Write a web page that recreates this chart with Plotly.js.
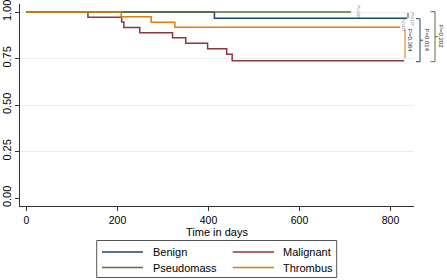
<!DOCTYPE html>
<html>
<head>
<meta charset="utf-8">
<script src="https://cdn.plot.ly/plotly-3.0.1.min.js"></script>
<style>html,body{margin:0;padding:0;background:#fff;}#chart{width:447px;height:280px;}</style>
</head>
<body>
<div id="chart"></div>
<script>
// Kaplan-Meier step data (time in days, survival after event)
const benignT = [0, 413, 836];
const benignS = [1.0, 0.966, 0.966];
const malignantT = [0, 135, 209, 214, 249, 321, 350, 398, 440, 452, 830];
const malignantS = [1.0, 0.972, 0.946, 0.917, 0.889, 0.861, 0.832, 0.803, 0.773, 0.738, 0.738];
const pseudoT = [0, 713];
const pseudoS = [1.0, 1.0];
const thrombusT = [0, 208, 274, 326, 821];
const thrombusS = [1.0, 0.975, 0.945, 0.918, 0.918];

const groups = ['Benign', 'Malignant', 'Pseudomass', 'Thrombus'];
const colors = ['#1a476f', '#90353b', '#55752f', '#e37e00'];
const xTicks = [0, 200, 400, 600, 800];
const yTicks = [0, 0.25, 0.5, 0.75, 1];
const yTickText = ['0.00', '0.25', '0.50', '0.75', '1.00'];
const pLabels = ['P=0.202', 'P=0.014', 'P=0.384'];
const pSmall = ['P=1.000', 'P=0.157', 'P=0.317'];

const W = 447, H = 280, L = 20, R = 33, T = 4, B = 74;
const pw = W - L - R, ph = H - T - B;
const px = p => (p - L) / pw;
const py = p => (H - B - p) / ph;
const FONT = 'Liberation Sans, Arial, sans-serif';

function step(x, y, name, color) {
  return {x: x, y: y, type: 'scatter', mode: 'lines', line: {shape: 'hv', color: color, width: 1.5},
          name: name, showlegend: false, hoverinfo: 'skip'};
}
const data = [
  step(benignT, benignS, groups[0], colors[0]),
  step(malignantT, malignantS, groups[1], colors[1]),
  step(pseudoT, pseudoS, groups[2], colors[2]),
  step(thrombusT, thrombusS, groups[3], colors[3]),
  {x: [], y: [], yaxis: 'y2', type: 'scatter', showlegend: false}
];

function seg(x0, y0, x1, y1, color, w) {
  return {type: 'line', xref: 'paper', yref: 'paper', x0: px(x0), y0: py(y0), x1: px(x1), y1: py(y1),
          line: {color: color, width: w}};
}
function bracket(x, yTop, yBot, arm, color) {
  return [seg(x - arm, yTop, x, yTop, color, 1), seg(x, yTop, x, yBot, color, 1),
          seg(x - arm, yBot, x, yBot, color, 1), seg(x, (yTop + yBot) / 2, x + 3, (yTop + yBot) / 2, color, 1)];
}
const shapes = [
  seg(405, 29, 405, 58, '#f4b77a', 2),
  ...bracket(420, 18.7, 61.7, 4, colors[0]),
  ...bracket(435, 11.7, 61.7, 4.5, colors[2]),
  seg(408, 13, 408, 18, colors[0], 1),
  // legend box
  {type: 'rect', xref: 'paper', yref: 'paper', x0: px(96.7), y0: py(240.5), x1: px(336.7), y1: py(277.5),
   line: {color: '#555', width: 1}, fillcolor: 'rgba(255,255,255,0)'}
];
const legRows = [252, 267.5];
const legCols = [[102, 143, 151], [232.7, 274, 280.7]];
const annotations = [];
const legOrder = [[0, 1], [2, 3]];
legOrder.forEach((row, r) => row.forEach((g, c) => {
  const col = legCols[c];
  shapes.push(seg(col[0], legRows[r], col[1], legRows[r], colors[g], 1.5));
  annotations.push({xref: 'paper', yref: 'paper', x: px(col[2]), y: py(legRows[r]), xanchor: 'left', yanchor: 'middle',
    text: groups[g], showarrow: false, font: {family: FONT, size: 11, color: '#000'}});
}));
annotations.push({xref: 'paper', yref: 'paper', x: px(217), y: py(232), xanchor: 'center', yanchor: 'middle',
  text: 'Time in days', showarrow: false, borderpad: 0, font: {family: FONT, size: 11, color: '#000'}});
// bracket p-values
[[441.5, 36.5, pLabels[0]], [427, 39.5, pLabels[1]], [410.5, 40.5, pLabels[2]]].forEach(a => {
  annotations.push({xref: 'paper', yref: 'paper', x: px(a[0]), y: py(a[1]), xanchor: 'center', yanchor: 'middle',
    text: a[2], textangle: 90, showarrow: false, font: {family: FONT, size: 6, color: '#222'}});
});
[[357.5, 12, pSmall[0]], [411.5, 19, pSmall[1]], [402.5, 24.5, pSmall[2]]].forEach(a => {
  annotations.push({xref: 'paper', yref: 'paper', x: px(a[0]), y: py(a[1]), xanchor: 'center', yanchor: 'middle',
    text: a[2], textangle: 90, showarrow: false, font: {family: FONT, size: 3.5, color: '#555'}});
});

const layout = {
  width: W, height: H,
  margin: {l: L, r: R, t: T, b: B, pad: 0},
  paper_bgcolor: '#fff', plot_bgcolor: '#fff',
  font: {family: FONT, size: 11, color: '#000'},
  showlegend: false,
  xaxis: {range: [-14.3, 851.6], tickvals: xTicks, ticktext: xTicks.map(String), ticks: 'outside', ticklen: 4,
          tickcolor: '#333', showline: true, linecolor: '#333', linewidth: 1, showgrid: false, zeroline: false,
          ticklabeloverflow: 'allow',
          tickfont: {family: FONT, size: 10.5, color: '#000'}, fixedrange: true},
  yaxis: {range: [-0.043, 1.043], tickvals: yTicks, ticktext: yTickText, ticks: 'outside', ticklen: 4,
          tickcolor: '#333', showline: true, linecolor: '#333', linewidth: 1, showgrid: false, zeroline: false,
          ticklabeloverflow: 'allow',
          tickangle: -90, tickfont: {family: FONT, size: 11, color: '#000'}, fixedrange: true},
  yaxis2: {overlaying: 'y', range: [-0.043, 1.043], tickvals: yTicks.slice(1), showticklabels: false, ticks: '',
           showgrid: true, gridcolor: '#e6eef0', gridwidth: 1, showline: false, zeroline: false, fixedrange: true},
  shapes: shapes,
  annotations: annotations
};
Plotly.newPlot('chart', data, layout, {staticPlot: true, displayModeBar: false});
</script>
</body>
</html>
